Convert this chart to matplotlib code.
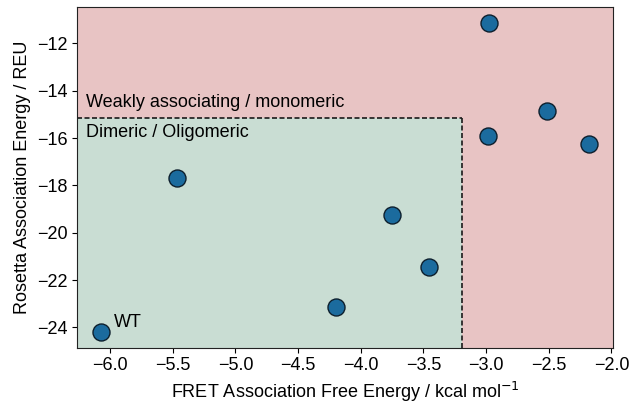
import matplotlib
matplotlib.use("Agg")
import matplotlib.pyplot as plt
import numpy as np

plt.rcParams['font.family'] = ['Liberation Sans', 'DejaVu Sans']

fret = [-6.07, -5.47, -2.975, -2.513, -2.985, -2.18, -3.754, -3.452, -4.196]
rosetta = [-24.2, -17.69, -11.13, -14.86, -15.9, -16.25, -19.23, -21.45, -23.13]
labels = ["WT", "", "", "", "", "", "", "", ""]
x_thresh = -3.19
y_thresh = -15.17

fig = plt.figure(figsize=(6.31, 4.08), dpi=100)
ax = fig.add_axes([77/631, 1 - 347.7/408, (613.3 - 77)/631, (347.7 - 7.3)/408])

ax.scatter(fret, rosetta, s=150, c="#1b6b9e", edgecolors="#0d1f2d", linewidths=1.0, zorder=3)
ax.margins(0.05)
xl = ax.get_xlim()
yl = ax.get_ylim()

ax.fill_between([xl[0], xl[1]], yl[0], yl[1], color="#e8c4c4", zorder=0, linewidth=0)
ax.fill_between([xl[0], x_thresh], yl[0], y_thresh, color="#c9ddd3", zorder=1, linewidth=0)
ax.plot([xl[0], x_thresh], [y_thresh, y_thresh], color="#1a1a1a", ls=(0, (3, 1.5)), lw=1.2, zorder=2)
ax.plot([x_thresh, x_thresh], [yl[0], y_thresh], color="#1a1a1a", ls=(0, (3, 1.5)), lw=1.2, zorder=2)
ax.set_xlim(xl)
ax.set_ylim(yl)

for x, y, t in zip(fret, rosetta, labels):
    if t:
        ax.annotate(t, (x, y), xytext=(9, 4), textcoords="offset points", fontsize=13)

ax.text(-6.195, y_thresh + 0.3, "Weakly associating / monomeric", fontsize=13, va="bottom", ha="left")
ax.text(-6.195, y_thresh - 0.25, "Dimeric / Oligomeric", fontsize=13, va="top", ha="left")

ax.set_xlabel("FRET Association Free Energy / kcal mol$^{-1}$", fontsize=13)
ax.set_ylabel("Rosetta Association Energy / REU", fontsize=13)
ax.tick_params(labelsize=13)
ax.set_xticks(np.arange(-6.0, -1.99, 0.5))
ax.set_yticks(np.arange(-24, -11, 2))
for s in ax.spines.values():
    s.set_color("#222222")

fig.savefig("out.png", dpi=100)
